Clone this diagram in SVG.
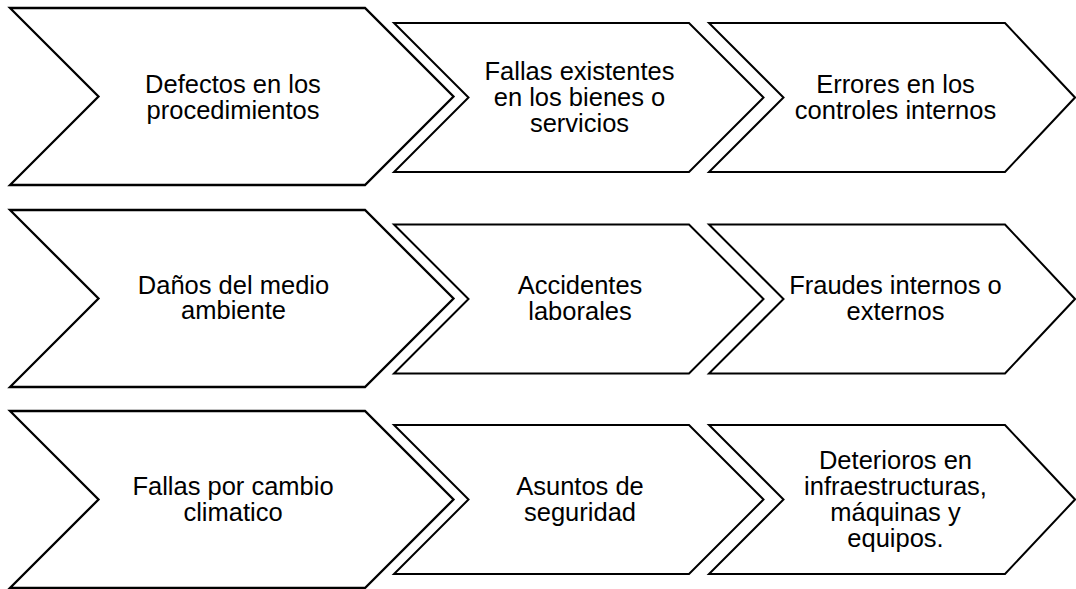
<svg xmlns="http://www.w3.org/2000/svg" xmlns:xlink="http://www.w3.org/1999/xlink" width="1076" height="589" viewBox="0 0 1076 589">
<style>
.chev{fill:#fff;stroke:#000;stroke-width:2;stroke-linejoin:miter}
.big{stroke-width:2.3}
.lbl{font-family:"Liberation Sans",Arial,sans-serif;font-size:25.5px;fill:#000;text-anchor:middle}
</style>
<defs>
<path id="c1" d="M10,-88.5 L365,-88.5 L453.5,0 L365,88.5 L10,88.5 L98.5,0 Z"/>
<path id="c2" d="M394,-74.5 L689,-74.5 L763.5,0 L689,74.5 L394,74.5 L468.5,0 Z"/>
<path id="c3" d="M709,-74.5 L1005,-74.5 L1075,0 L1005,74.5 L709,74.5 L783.5,0 Z"/>
</defs>
<rect width="1076" height="589" fill="#fff"/>
<g id="connectors"></g>

<g id="n1">
<use xlink:href="#c1" class="chev big" y="96.5"/>
<text class="lbl"><tspan x="233" y="93">Defectos en los</tspan><tspan x="233" y="118.5">procedimientos</tspan></text>
</g>
<g id="n2">
<use xlink:href="#c2" class="chev" y="97.5"/>
<text class="lbl"><tspan x="579.5" y="79.5">Fallas existentes</tspan><tspan x="579.5" y="105.5">en los bienes o</tspan><tspan x="579.5" y="131.5">servicios</tspan></text>
</g>
<g id="n3">
<use xlink:href="#c3" class="chev" y="97.5"/>
<text class="lbl"><tspan x="895.5" y="93">Errores en los</tspan><tspan x="895.5" y="118.5">controles internos</tspan></text>
</g>

<g id="n4">
<use xlink:href="#c1" class="chev big" y="298.5"/>
<text class="lbl"><tspan x="233.5" y="293.5">Daños del medio</tspan><tspan x="233.5" y="319">ambiente</tspan></text>
</g>
<g id="n5">
<use xlink:href="#c2" class="chev" y="299"/>
<text class="lbl"><tspan x="580" y="294">Accidentes</tspan><tspan x="580" y="319.5">laborales</tspan></text>
</g>
<g id="n6">
<use xlink:href="#c3" class="chev" y="299"/>
<text class="lbl"><tspan x="895.5" y="294">Fraudes internos o</tspan><tspan x="895.5" y="319.5">externos</tspan></text>
</g>

<g id="n7">
<use xlink:href="#c1" class="chev big" y="499.5"/>
<text class="lbl"><tspan x="233" y="495">Fallas por cambio</tspan><tspan x="233" y="520.5">climatico</tspan></text>
</g>
<g id="n8">
<use xlink:href="#c2" class="chev" y="499.5"/>
<text class="lbl"><tspan x="580" y="495">Asuntos de</tspan><tspan x="580" y="520.5">seguridad</tspan></text>
</g>
<g id="n9">
<use xlink:href="#c3" class="chev" y="499.5"/>
<text class="lbl"><tspan x="895.5" y="468.5">Deterioros en</tspan><tspan x="895.5" y="494.5">infraestructuras,</tspan><tspan x="895.5" y="520.5">máquinas y</tspan><tspan x="895.5" y="546.5">equipos.</tspan></text>
</g>
</svg>
